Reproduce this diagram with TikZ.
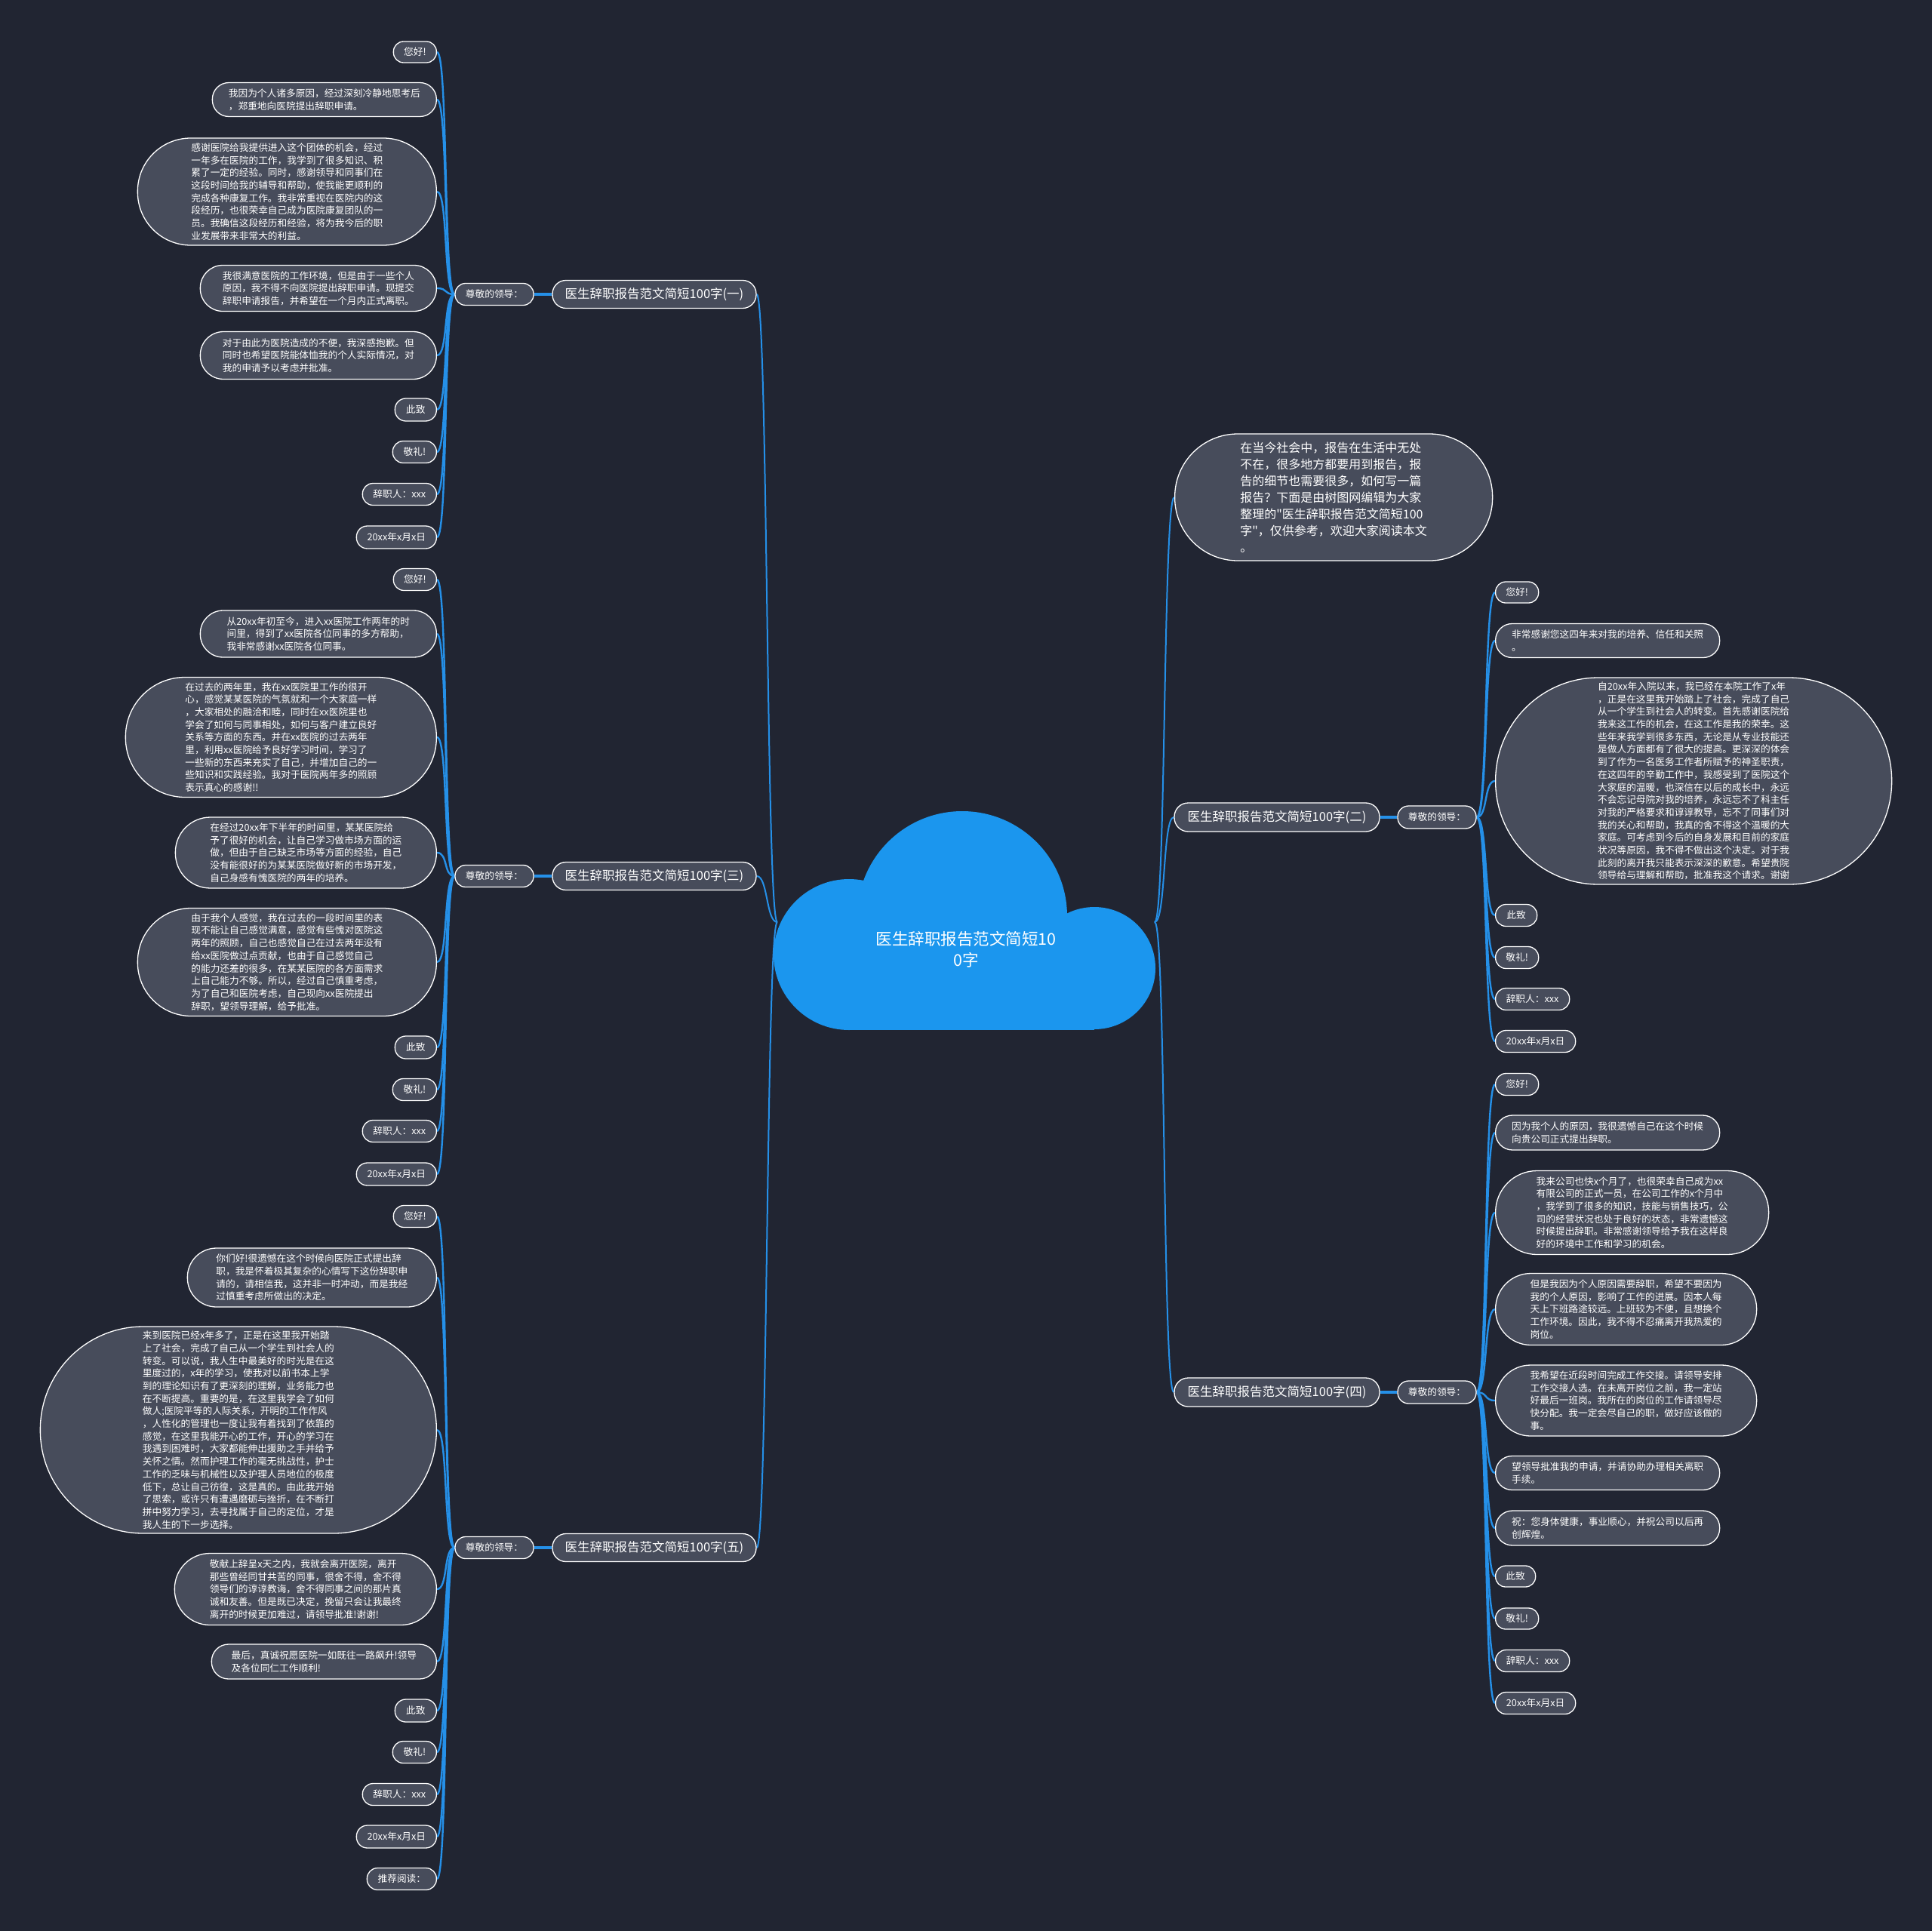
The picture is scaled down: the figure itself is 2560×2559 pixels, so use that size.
\documentclass[tikz,border=0pt]{standalone}
\usepackage{fontspec}
\setmainfont{Noto Sans CJK SC}
\newfontfamily\qfont{Noto Sans CJK SC}
\usetikzlibrary{calc}
\pgfdeclarelayer{back}
\pgfdeclarelayer{links}
\pgfsetlayers{back,links,main}
\definecolor{bgc}{HTML}{212532}
\definecolor{nodec}{HTML}{474C5B}
\definecolor{linec}{HTML}{2590E8}
\definecolor{cloudc}{HTML}{1B96EE}
\newcommand{\Lf}[5]{\pgfmathsetmacro\myrad{#4/2-0.6}\node[leaf,anchor=east,minimum width=#3pt,minimum height=#4pt,rounded corners=\myrad pt] (#1) at (579,#2) {#5};}
\newcommand{\Rf}[5]{\pgfmathsetmacro\myrad{#4/2-0.6}\node[leaf,anchor=west,minimum width=#3pt,minimum height=#4pt,rounded corners=\myrad pt] (#1) at (1981,#2) {#5};}
\newcommand{\cL}[2]{\draw[twigline] (#1.west) .. controls ($(#1.west)+(-15,0)$) and ($(#2.east)+(15,0)$) .. (#2.east);}
\newcommand{\cR}[2]{\draw[twigline] (#1.east) .. controls ($(#1.east)+(15,0)$) and ($(#2.west)+(-15,0)$) .. (#2.west);}
\begin{document}
\begin{tikzpicture}[x=1pt,y=-1pt,
 box/.style={draw=white,line width=1.3pt,fill=nodec,text=white,align=left,inner sep=0pt},
 leaf/.style={box,font=\fontsize{12.7}{16.7}\selectfont},
 topic/.style={box,align=center,font=\fontsize{16.5}{20}\selectfont},
 greet/.style={box,align=center,font=\fontsize{12.7}{16.7}\selectfont},
 twigline/.style={draw=linec,line width=2.4pt},
 trunkline/.style={draw=linec,line width=2pt},
 stemline/.style={draw=linec,line width=4.5pt},
]
\begin{pgfonlayer}{back}
\fill[bgc] (0,0) rectangle (2560,2559);
\end{pgfonlayer}
\useasboundingbox (0,0) rectangle (2560,2559);

% cloud
\fill[cloudc] (1125,1265) circle[radius=100];
\fill[cloudc] (1275,1214) circle[radius=139];
\fill[cloudc] (1450,1283) circle[radius=81];
\fill[cloudc] (1125,1214) rectangle (1450,1365);
\node[text=white,align=center,font=\fontsize{21.5}{28}\selectfont] (root) at (1280,1258) {医生辞职报告范文简短10\\0字};
\coordinate (cl) at (1030,1222);
\coordinate (cr) at (1530,1222);

% main topics
\node[topic,minimum width=270pt,minimum height=37pt,rounded corners=17.9pt] (t1) at (867,390) {医生辞职报告范文简短100字(一)};
\node[topic,minimum width=270pt,minimum height=37pt,rounded corners=17.9pt] (t3) at (867,1161) {医生辞职报告范文简短100字(三)};
\node[topic,minimum width=270pt,minimum height=37pt,rounded corners=17.9pt] (t5) at (867,2051) {医生辞职报告范文简短100字(五)};
\node[topic,minimum width=272pt,minimum height=38pt,rounded corners=18.4pt] (t2) at (1692,1083) {医生辞职报告范文简短100字(二)};
\node[topic,minimum width=272pt,minimum height=38pt,rounded corners=18.4pt] (t4) at (1692,1845) {医生辞职报告范文简短100字(四)};
\node[box,anchor=west,minimum width=421pt,minimum height=168pt,rounded corners=83.4pt,font=\fontsize{16}{22}\selectfont] (intro) at (1556,659) {在当今社会中，报告在生活中无处\\不在，很多地方都要用到报告，报\\告的细节也需要很多，如何写一篇\\报告？下面是由树图网编辑为大家\\整理的{\qfont"}医生辞职报告范文简短100\\字{\qfont"}，仅供参考，欢迎大家阅读本文\\。};

\node[greet,minimum width=104pt,minimum height=29pt,rounded corners=13.9pt] (r1) at (655,390) {尊敬的领导：};
\node[greet,minimum width=104pt,minimum height=29pt,rounded corners=13.9pt] (r3) at (655,1161) {尊敬的领导：};
\node[greet,minimum width=104pt,minimum height=29pt,rounded corners=13.9pt] (r5) at (655,2051) {尊敬的领导：};
\node[greet,minimum width=104pt,minimum height=30pt,rounded corners=14.4pt] (r2) at (1904,1083) {尊敬的领导：};
\node[greet,minimum width=104pt,minimum height=30pt,rounded corners=14.4pt] (r4) at (1904,1845) {尊敬的领导：};

% branch one
\Lf{a1}{69}{57}{28}{您好!}
\Lf{a2}{132}{297}{45}{我因为个人诸多原因，经过深刻冷静地思考后\\，郑重地向医院提出辞职申请。}
\Lf{a3}{254}{396}{142}{感谢医院给我提供进入这个团体的机会，经过\\一年多在医院的工作，我学到了很多知识、积\\累了一定的经验。同时，感谢领导和同事们在\\这段时间给我的辅导和帮助，使我能更顺利的\\完成各种康复工作。我非常重视在医院内的这\\段经历，也很荣幸自己成为医院康复团队的一\\员。我确信这段经历和经验，将为我今后的职\\业发展带来非常大的利益。}
\Lf{a4}{382}{313}{61}{我很满意医院的工作环境，但是由于一些个人\\原因，我不得不向医院提出辞职申请。现提交\\辞职申请报告，并希望在一个月内正式离职。}
\Lf{a5}{471}{313}{63}{对于由此为医院造成的不便，我深感抱歉。但\\同时也希望医院能体恤我的个人实际情况，对\\我的申请予以考虑并批准。}
\Lf{a6}{543}{55}{30}{此致}
\Lf{a7}{599}{58}{29}{敬礼!}
\Lf{a8}{655}{98}{29}{辞职人：xxx}
\Lf{a9}{712}{106}{30}{20xx年x月x日}

% branch three
\Lf{b1}{768}{57}{29}{您好!}
\Lf{b2}{840}{313}{62}{从20xx年初至今，进入xx医院工作两年的时\\间里，得到了xx医院各位同事的多方帮助，\\我非常感谢xx医院各位同事。}
\Lf{b3}{977}{412}{159}{在过去的两年里，我在xx医院里工作的很开\\心，感觉某某医院的气氛就和一个大家庭一样\\，大家相处的融洽和睦，同时在xx医院里也\\学会了如何与同事相处，如何与客户建立良好\\关系等方面的东西。并在xx医院的过去两年\\里，利用xx医院给予良好学习时间，学习了\\一些新的东西来充实了自己，并增加自己的一\\些知识和实践经验。我对于医院两年多的照顾\\表示真心的感谢!!}
\Lf{b4}{1130}{346}{94}{在经过20xx年下半年的时间里，某某医院给\\予了很好的机会，让自己学习做市场方面的运\\做，但由于自己缺乏市场等方面的经验，自己\\没有能很好的为某某医院做好新的市场开发，\\自己身感有愧医院的两年的培养。}
\Lf{b5}{1275}{396}{143}{由于我个人感觉，我在过去的一段时间里的表\\现不能让自己感觉满意，感觉有些愧对医院这\\两年的照顾，自己也感觉自己在过去两年没有\\给xx医院做过点贡献，也由于自己感觉自己\\的能力还差的很多，在某某医院的各方面需求\\上自己能力不够。所以，经过自己慎重考虑，\\为了自己和医院考虑，自己现向xx医院提出\\辞职，望领导理解，给予批准。}
\Lf{b6}{1388}{55}{30}{此致}
\Lf{b7}{1444}{58}{29}{敬礼!}
\Lf{b8}{1499}{98}{29}{辞职人：xxx}
\Lf{b9}{1556}{106}{30}{20xx年x月x日}

% branch five
\Lf{c1}{1612}{57}{29}{您好!}
\Lf{c2}{1693}{330}{78}{你们好!很遗憾在这个时候向医院正式提出辞\\职，我是怀着极其复杂的心情写下这份辞职申\\请的，请相信我，这并非一时冲动，而是我经\\过慎重考虑所做出的决定。}
\Lf{c3}{1895}{525}{274}{来到医院已经x年多了，正是在这里我开始踏\\上了社会，完成了自己从一个学生到社会人的\\转变。可以说，我人生中最美好的时光是在这\\里度过的，x年的学习，使我对以前书本上学\\到的理论知识有了更深刻的理解，业务能力也\\在不断提高。重要的是，在这里我学会了如何\\做人;医院平等的人际关系，开明的工作作风\\，人性化的管理也一度让我有着找到了依靠的\\感觉，在这里我能开心的工作，开心的学习在\\我遇到困难时，大家都能伸出援助之手并给予\\关怀之情。然而护理工作的毫无挑战性，护士\\工作的乏味与机械性以及护理人员地位的极度\\低下，总让自己彷徨，这是真的。由此我开始\\了思索，或许只有遭遇磨砺与挫折，在不断打\\拼中努力学习，去寻找属于自己的定位，才是\\我人生的下一步选择。}
\Lf{c4}{2106}{347}{95}{敬献上辞呈x天之内，我就会离开医院，离开\\那些曾经同甘共苦的同事，很舍不得，舍不得\\领导们的谆谆教诲，舍不得同事之间的那片真\\诚和友善。但是既已决定，挽留只会让我最终\\离开的时候更加难过，请领导批准!谢谢!}
\Lf{c5}{2202}{298}{46}{最后，真诚祝愿医院一如既往一路飙升!领导\\及各位同仁工作顺利!}
\Lf{c6}{2267}{55}{30}{此致}
\Lf{c7}{2322}{58}{29}{敬礼!}
\Lf{c8}{2378}{98}{29}{辞职人：xxx}
\Lf{c9}{2434}{106}{30}{20xx年x月x日}
\Lf{c10}{2490}{92}{29}{推荐阅读：}

% branch two
\Rf{d1}{785}{57}{28}{您好!}
\Rf{d2}{849}{297}{45}{非常感谢您这四年来对我的培养、信任和关照\\。}
\Rf{d3}{1035}{525}{274}{自20xx年入院以来，我已经在本院工作了x年\\，正是在这里我开始踏上了社会，完成了自己\\从一个学生到社会人的转变。首先感谢医院给\\我来这工作的机会，在这工作是我的荣幸。这\\些年来我学到很多东西，无论是从专业技能还\\是做人方面都有了很大的提高。更深深的体会\\到了作为一名医务工作者所赋予的神圣职责，\\在这四年的辛勤工作中，我感受到了医院这个\\大家庭的温暖，也深信在以后的成长中，永远\\不会忘记母院对我的培养，永远忘不了科主任\\对我的严格要求和谆谆教导，忘不了同事们对\\我的关心和帮助，我真的舍不得这个温暖的大\\家庭。可考虑到今后的自身发展和目前的家庭\\状况等原因，我不得不做出这个决定。对于我\\此刻的离开我只能表示深深的歉意。希望贵院\\领导给与理解和帮助，批准我这个请求。谢谢}
\Rf{d4}{1213}{55}{29}{此致}
\Rf{d5}{1269}{57}{29}{敬礼!}
\Rf{d6}{1324}{98}{29}{辞职人：xxx}
\Rf{d7}{1380}{106}{29}{20xx年x月x日}

% branch four
\Rf{e1}{1437}{57}{29}{您好!}
\Rf{e2}{1501}{297}{46}{因为我个人的原因，我很遗憾自己在这个时候\\向贵公司正式提出辞职。}
\Rf{e3}{1607}{362}{111}{我来公司也快x个月了，也很荣幸自己成为xx\\有限公司的正式一员，在公司工作的x个月中\\，我学到了很多的知识，技能与销售技巧，公\\司的经营状况也处于良好的状态，非常遗憾这\\时候提出辞职。非常感谢领导给予我在这样良\\好的环境中工作和学习的机会。}
\Rf{e4}{1735}{346}{95}{但是我因为个人原因需要辞职，希望不要因为\\我的个人原因，影响了工作的进展。因本人每\\天上下班路途较远。上班较为不便，且想换个\\工作环境。因此，我不得不忍痛离开我热爱的\\岗位。}
\Rf{e5}{1856}{346}{94}{我希望在近段时间完成工作交接。请领导安排\\工作交接人选。在未离开岗位之前，我一定站\\好最后一班岗。我所在的岗位的工作请领导尽\\快分配。我一定会尽自己的职，做好应该做的\\事。}
\Rf{e6}{1952}{297}{45}{望领导批准我的申请，并请协助办理相关离职\\手续。}
\Rf{e7}{2025}{297}{46}{祝：您身体健康，事业顺心，并祝公司以后再\\创辉煌。}
\Rf{e8}{2089}{53}{28}{此致}
\Rf{e9}{2145}{57}{28}{敬礼!}
\Rf{e10}{2201}{98}{29}{辞职人：xxx}
\Rf{e11}{2257}{106}{29}{20xx年x月x日}

\begin{pgfonlayer}{links}
\foreach \t in {t1,t3,t5}{
 \draw[trunkline] (cl) .. controls ($(cl)+(-15,0)$) and ($(\t.east)+(15,0)$) .. (\t.east);
}
\foreach \t in {intro,t2,t4}{
 \draw[trunkline] (cr) .. controls ($(cr)+(15,0)$) and ($(\t.west)+(-15,0)$) .. (\t.west);
}
\draw[stemline] (t1.west) -- (r1.east);
\draw[stemline] (t3.west) -- (r3.east);
\draw[stemline] (t5.west) -- (r5.east);
\draw[stemline] (t2.east) -- (r2.west);
\draw[stemline] (t4.east) -- (r4.west);
\foreach \n in {a1,a2,a3,a4,a5,a6,a7,a8,a9}{\cL{r1}{\n}}
\foreach \n in {b1,b2,b3,b4,b5,b6,b7,b8,b9}{\cL{r3}{\n}}
\foreach \n in {c1,c2,c3,c4,c5,c6,c7,c8,c9,c10}{\cL{r5}{\n}}
\foreach \n in {d1,d2,d3,d4,d5,d6,d7}{\cR{r2}{\n}}
\foreach \n in {e1,e2,e3,e4,e5,e6,e7,e8,e9,e10,e11}{\cR{r4}{\n}}
\end{pgfonlayer}
\end{tikzpicture}
\end{document}
